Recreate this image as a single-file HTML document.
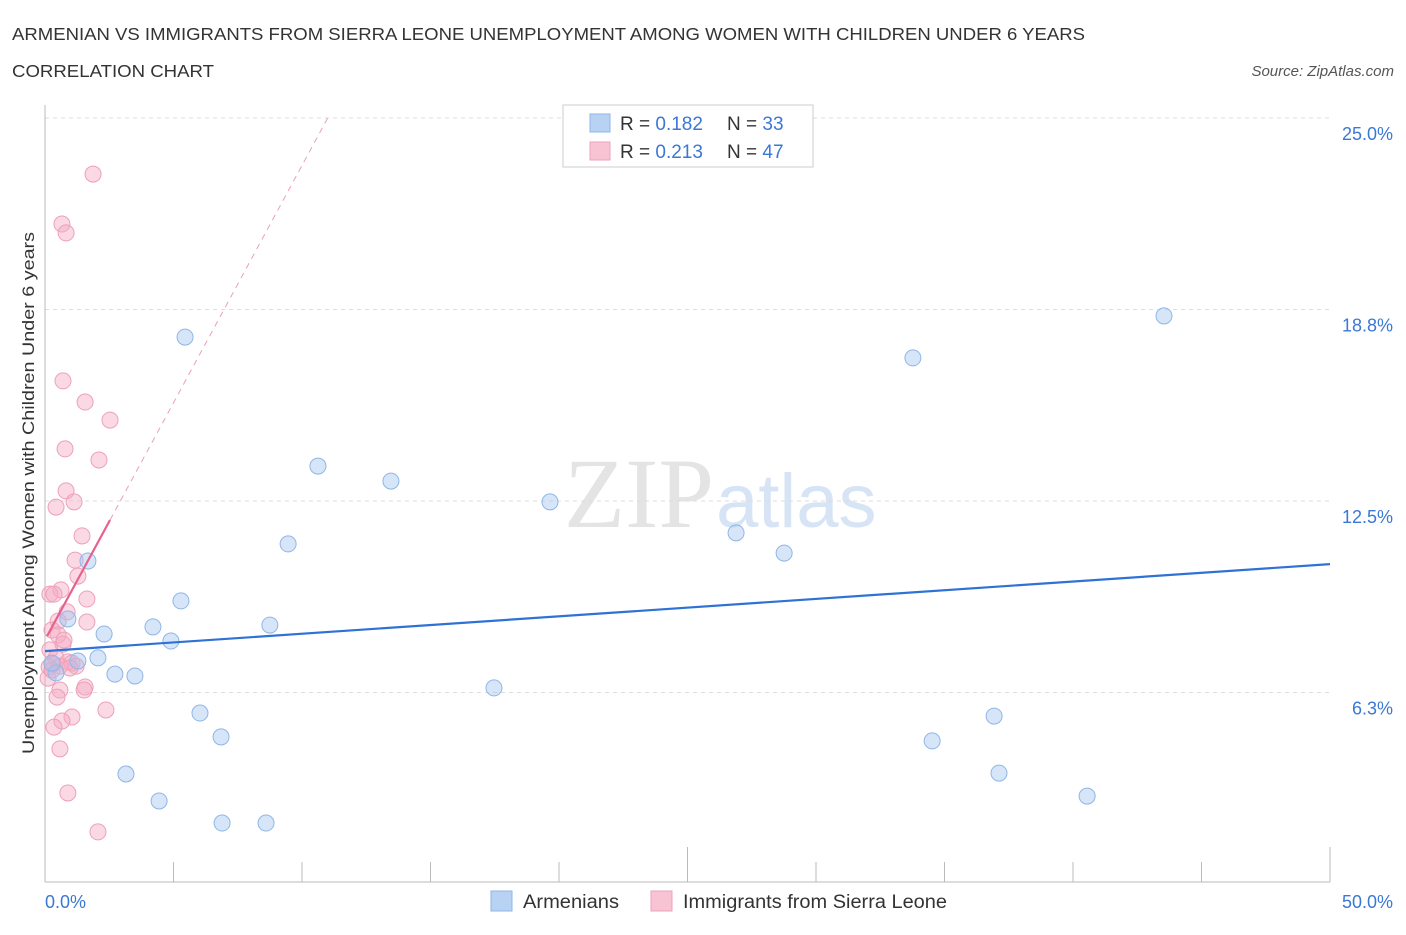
<!DOCTYPE html>
<html><head><meta charset="utf-8"><style>
body{margin:0;background:#fff;font-family:"Liberation Sans",sans-serif;}
</style></head><body>
<svg id="chart" width="1406" height="930" xmlns="http://www.w3.org/2000/svg" font-family="Liberation Sans, sans-serif">
<text x="12" y="40" font-size="17.5" fill="#333" textLength="1073" lengthAdjust="spacingAndGlyphs">ARMENIAN VS IMMIGRANTS FROM SIERRA LEONE UNEMPLOYMENT AMONG WOMEN WITH CHILDREN UNDER 6 YEARS</text>
<text x="12" y="77" font-size="17.5" fill="#333" textLength="202" lengthAdjust="spacingAndGlyphs">CORRELATION CHART</text>
<text x="1394" y="76" font-size="15" fill="#555" font-style="italic" text-anchor="end">Source: ZipAtlas.com</text>
<text x="714" y="527" font-size="100" text-anchor="end" fill="#e4e4e4" font-family="Liberation Serif, serif">ZIP</text>
<text x="716" y="527" font-size="76" fill="#d6e4f5">atlas</text>
<text transform="translate(34,493) rotate(-90)" font-size="17" fill="#333" text-anchor="middle" textLength="522" lengthAdjust="spacingAndGlyphs">Unemployment Among Women with Children Under 6 years</text>
<g id="grid"></g><g id="axes"></g><g id="marks"></g>
<g>
<rect x="563" y="105" width="250" height="62" fill="#fff" stroke="#ccc"/>
<rect x="590" y="114" width="20" height="18" fill="#b8d2f3" stroke="#8fb6e8"/>
<rect x="590" y="142" width="20" height="18" fill="#f8c4d4" stroke="#eea0b8"/>
<text x="620" y="130" font-size="19" fill="#333">R = <tspan fill="#3a78d6">0.182</tspan></text>
<text x="727" y="130" font-size="19" fill="#333">N = <tspan fill="#3a78d6">33</tspan></text>
<text x="620" y="158" font-size="19" fill="#333">R = <tspan fill="#3a78d6">0.213</tspan></text>
<text x="727" y="158" font-size="19" fill="#333">N = <tspan fill="#3a78d6">47</tspan></text>
</g>
<g>
<rect x="491" y="891" width="21" height="20" fill="#b8d2f3" stroke="#8fb6e8"/>
<text x="523" y="908" font-size="19" fill="#333" textLength="96" lengthAdjust="spacingAndGlyphs">Armenians</text>
<rect x="651" y="891" width="21" height="20" fill="#f8c4d4" stroke="#eea0b8"/>
<text x="683" y="908" font-size="19" fill="#333" textLength="264" lengthAdjust="spacingAndGlyphs">Immigrants from Sierra Leone</text>
</g>
</svg>
<script>
const yTicks=[6.25,12.5,18.75,25];
const yTickLabels=["6.3%","12.5%","18.8%","25.0%"];
const xTickValues=[0,5,10,15,20,25,30,35,40,45,50];
const armX=[5.45,33.77,43.54,10.62,13.46,19.65,26.89,28.76,9.46,1.67,5.29,8.75,4.20,2.30,4.90,0.89,2.06,1.28,0.43,2.72,3.50,17.47,6.03,36.93,6.85,34.52,3.15,37.12,4.44,40.55,6.89,8.60,0.27];
const armY=[17.85,17.17,18.54,13.64,13.15,12.47,11.46,10.80,11.10,10.54,9.24,8.45,8.39,8.16,7.93,8.65,7.38,7.28,6.89,6.85,6.79,6.40,5.58,5.48,4.80,4.67,3.59,3.62,2.71,2.87,1.99,1.99,7.21];
const sleX=[1.87,0.66,0.82,0.70,1.56,2.53,0.78,2.10,0.82,1.13,0.43,1.44,1.17,1.28,0.62,0.19,0.35,1.63,0.86,0.51,1.63,0.27,0.51,0.70,0.19,0.43,0.89,1.05,1.21,0.31,0.16,0.58,0.12,1.56,1.52,0.58,0.47,1.05,0.66,0.35,2.37,0.58,0.89,2.06,0.27,0.74,0.97];
const sleY=[23.17,21.54,21.25,16.42,15.73,15.14,14.20,13.84,12.83,12.47,12.30,11.36,10.57,10.05,9.60,9.46,9.46,9.30,8.88,8.58,8.55,8.29,8.13,7.83,7.64,7.38,7.25,7.21,7.11,7.18,7.08,7.11,6.72,6.43,6.33,6.33,6.10,5.45,5.32,5.12,5.68,4.41,2.97,1.70,6.98,7.96,7.05];
const armTrend=[[0,7.60],[50,10.44]];
const sleTrend=[[0.08,8.09],[2.53,11.88]];
const sleTrendExt=[[2.53,11.88],[11.0,25]];
const X=v=>45+v/50*1285, Y=v=>884-v/25*766;
const NS="http://www.w3.org/2000/svg";
function mk(p,t,a){const e=document.createElementNS(NS,t);for(const k in a)e.setAttribute(k,a[k]);document.getElementById(p).appendChild(e);return e;}
const g=mk('grid','line',{x1:45,x2:1330,y1:Y(25),y2:Y(25),stroke:'#ddd','stroke-dasharray':'4,4'});


yTicks.forEach((t,i)=>{
 const l=mk('grid','line',{x1:45,x2:1330,y1:Y(t),y2:Y(t),stroke:'#ddd','stroke-dasharray':'4,4'});
 
 
 const tx=mk('axes','text',{x:1393,y:Y(t)+22,'font-size':18,fill:'#3a78d6','text-anchor':'end'});
 tx.textContent=yTickLabels[i];
 
 
});
const ax=mk('axes','line',{x1:45,x2:1330,y1:882,y2:882,stroke:'#bbb'});


const ay=mk('axes','line',{x1:45,x2:45,y1:105,y2:882,stroke:'#bbb'});


xTickValues.forEach(v=>{
 const t=mk('axes','line',{x1:X(v),x2:X(v),y1:v%25?862:847,y2:882,stroke:'#bbb'});
 
 
});
[["0.0%",45,'start'],["50.0%",1393,'end']].forEach(([s,x,a])=>{
 const t=mk('axes','text',{x:x,y:908,'font-size':18,fill:'#3a78d6','text-anchor':a});t.textContent=s;
 
 
});
sleX.forEach((v,i)=>{
 const c=mk('marks','circle',{cx:X(v),cy:Y(sleY[i]),r:8,fill:'rgba(245,170,195,0.45)',stroke:'#eea0b8','stroke-width':1});
 
 
});
armX.forEach((v,i)=>{
 const c=mk('marks','circle',{cx:X(v),cy:Y(armY[i]),r:8,fill:'rgba(165,198,240,0.45)',stroke:'#8fb6e8','stroke-width':1});
 
 
});
const t1=mk('marks','line',{x1:X(armTrend[0][0]),y1:Y(armTrend[0][1]),x2:X(armTrend[1][0]),y2:Y(armTrend[1][1]),stroke:'#2f72d6','stroke-width':2.2});


const t2=mk('marks','line',{x1:X(sleTrend[0][0]),y1:Y(sleTrend[0][1]),x2:X(sleTrend[1][0]),y2:Y(sleTrend[1][1]),stroke:'#e8608c','stroke-width':2.2});


const t3=mk('marks','line',{x1:X(sleTrendExt[0][0]),y1:Y(sleTrendExt[0][1]),x2:X(sleTrendExt[1][0]),y2:Y(sleTrendExt[1][1]),stroke:'#eaa0b8','stroke-width':1,'stroke-dasharray':'6,5'});


</script>
</body></html>
